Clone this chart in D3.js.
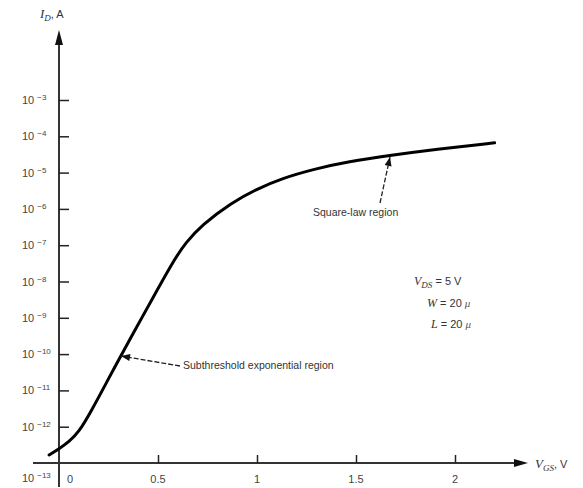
<!DOCTYPE html>
<html><head><meta charset="utf-8">
<script src="https://cdn.jsdelivr.net/npm/d3@7/dist/d3.min.js"></script>
<style>body{margin:0;background:#fff}svg{display:block}</style>
</head><body>
<script>
// Data (V_GS in volts, log10 of I_D in amperes)
const vgs = [-0.05, 0, 0.05, 0.1, 0.16, 0.25, 0.31, 0.40, 0.47, 0.58, 0.64, 0.72, 0.87, 1.0, 1.12, 1.29, 1.46, 1.68, 1.9, 2.2];
const logId = [-12.78, -12.61, -12.42, -12.15, -11.6, -10.68, -10.07, -9.18, -8.49, -7.41, -6.93, -6.45, -5.83, -5.45, -5.17, -4.9, -4.7, -4.52, -4.36, -4.18];
const xTicks = [0, 0.5, 1, 1.5, 2];
const xTickLabels = ["0", "0.5", "1", "1.5", "2"];
const yExps = [-3, -4, -5, -6, -7, -8, -9, -10, -11, -12, -13];

const W = 583, H = 488;
const svg = d3.select("body").append("svg").attr("width", W).attr("height", H);
const x = d3.scaleLinear().domain([0, 2]).range([59, 455]);
const y = d3.scaleLog().domain([1e-13, 1e-3]).range([463, 100]);
const axisCol = "#333";
const font = "Liberation Sans, Arial, sans-serif";

// axes lines
svg.append("line").attr("x1", 33).attr("x2", 518).attr("y1", y(1e-13)).attr("y2", y(1e-13))
  .attr("stroke", axisCol).attr("stroke-width", 2);
svg.append("path").attr("d", `M528,${y(1e-13)} L514,${y(1e-13)-4} L514,${y(1e-13)+4} Z`).attr("fill", "#111");
svg.append("line").attr("x1", x(0)).attr("x2", x(0)).attr("y1", 487).attr("y2", 42)
  .attr("stroke", axisCol).attr("stroke-width", 2);
svg.append("path").attr("d", `M${x(0)},30 L${x(0)-4},45 L${x(0)+4},45 Z`).attr("fill", "#111");

// x ticks via axis
const xAxis = d3.axisTop(x).tickValues(xTicks.slice(1)).tickSize(8).tickFormat("");
const gx = svg.append("g").attr("transform", `translate(0,${y(1e-13)})`).call(xAxis);
gx.select(".domain").remove();
gx.selectAll(".tick line").attr("stroke", "#222").attr("stroke-width", 1.5);
svg.append("g").selectAll("text").data(xTicks).join("text")
  .attr("x", (d, i) => i === 0 ? x(d) + 11 : x(d))
  .attr("y", 483).attr("text-anchor", "middle")
  .attr("font-family", font).attr("font-size", 11).attr("fill", "#444")
  .text((d, i) => xTickLabels[i]);

// y ticks via axis
const yAxis = d3.axisRight(y).tickValues(yExps.slice(0, -1).map(e => Math.pow(10, e))).tickSize(10).tickFormat("");
const gy = svg.append("g").attr("transform", `translate(${x(0)},0)`).call(yAxis);
gy.select(".domain").remove();
gy.selectAll(".tick line").attr("stroke", "#222").attr("stroke-width", 1.5);
const yl = svg.append("g").selectAll("text").data(yExps).join("text")
  .attr("x", 22)
  .attr("y", d => d === -13 ? 482 : y(Math.pow(10, d)) + 4)
  .attr("font-family", font).attr("font-size", 11).attr("fill", "#444");
yl.append("tspan").text("10");
yl.append("tspan").attr("dx", 3).attr("dy", -4).attr("font-size", 8).text(d => "−" + (-d));

// curve
const line = d3.line().x(d => x(d[0])).y(d => y(Math.pow(10, d[1]))).curve(d3.curveBasis);
svg.append("path").datum(vgs.map((v, i) => [v, logId[i]])).attr("d", line)
  .attr("fill", "none").attr("stroke", "#000").attr("stroke-width", 3).attr("stroke-linecap", "round");

// annotations
function arrow(x1, y1, x2, y2) {
  svg.append("line").attr("x1", x1).attr("y1", y1).attr("x2", x2).attr("y2", y2)
    .attr("stroke", "#222").attr("stroke-width", 1.3).attr("stroke-dasharray", "5,2");
  const a = Math.atan2(y2 - y1, x2 - x1), L = 9, w = 3.5;
  const bx = x2 - L * Math.cos(a), by = y2 - L * Math.sin(a);
  svg.append("path").attr("d", `M${x2},${y2} L${bx - w * Math.sin(a)},${by + w * Math.cos(a)} L${bx + w * Math.sin(a)},${by - w * Math.cos(a)} Z`).attr("fill", "#111");
}
arrow(180, 366, 121, 356);
svg.append("text").attr("x", 183).attr("y", 369).attr("font-family", font).attr("font-size", 10.5).attr("fill", "#333")
  .text("Subthreshold exponential region");
arrow(380, 203, 390, 157);
svg.append("text").attr("x", 313).attr("y", 216).attr("font-family", font).attr("font-size", 10.5).attr("fill", "#333")
  .text("Square-law region");

const serif = "Liberation Serif, Times New Roman, serif";
function param(xp, yp, v, sub, rest, mu) {
  const t = svg.append("text").attr("x", xp).attr("y", yp).attr("font-family", serif).attr("font-size", 12).attr("fill", "#333");
  t.append("tspan").attr("font-style", "italic").text(v);
  if (sub) t.append("tspan").attr("font-style", "italic").attr("font-size", 9).attr("dy", 3).text(sub);
  t.append("tspan").attr("dy", sub ? -3 : 0).attr("font-family", font).attr("font-size", 11).text(rest);
  if (mu) t.append("tspan").attr("dx", 3).attr("font-style", "italic").attr("font-size", 11).attr("fill", "#555").text(mu);
}
param(414, 285, "V", "DS", " = 5 V");
param(427, 307, "W", null, " = 20", "μ");
param(431, 328, "L", null, " = 20", "μ");

// axis titles
const yt = svg.append("text").attr("x", 40).attr("y", 18).attr("font-family", serif).attr("font-size", 13).attr("fill", "#333");
yt.append("tspan").attr("font-style", "italic").text("I");
yt.append("tspan").attr("font-style", "italic").attr("font-size", 9).attr("dy", 3).text("D");
yt.append("tspan").attr("dy", -3).attr("font-family", font).attr("font-size", 11).text(", A");
const xt = svg.append("text").attr("x", 535).attr("y", 468).attr("font-family", serif).attr("font-size", 13).attr("fill", "#333");
xt.append("tspan").attr("font-style", "italic").text("V");
xt.append("tspan").attr("font-style", "italic").attr("font-size", 9).attr("dy", 3).text("GS");
xt.append("tspan").attr("dy", -3).attr("font-family", font).attr("font-size", 11).text(", V");
</script>
</body></html>
